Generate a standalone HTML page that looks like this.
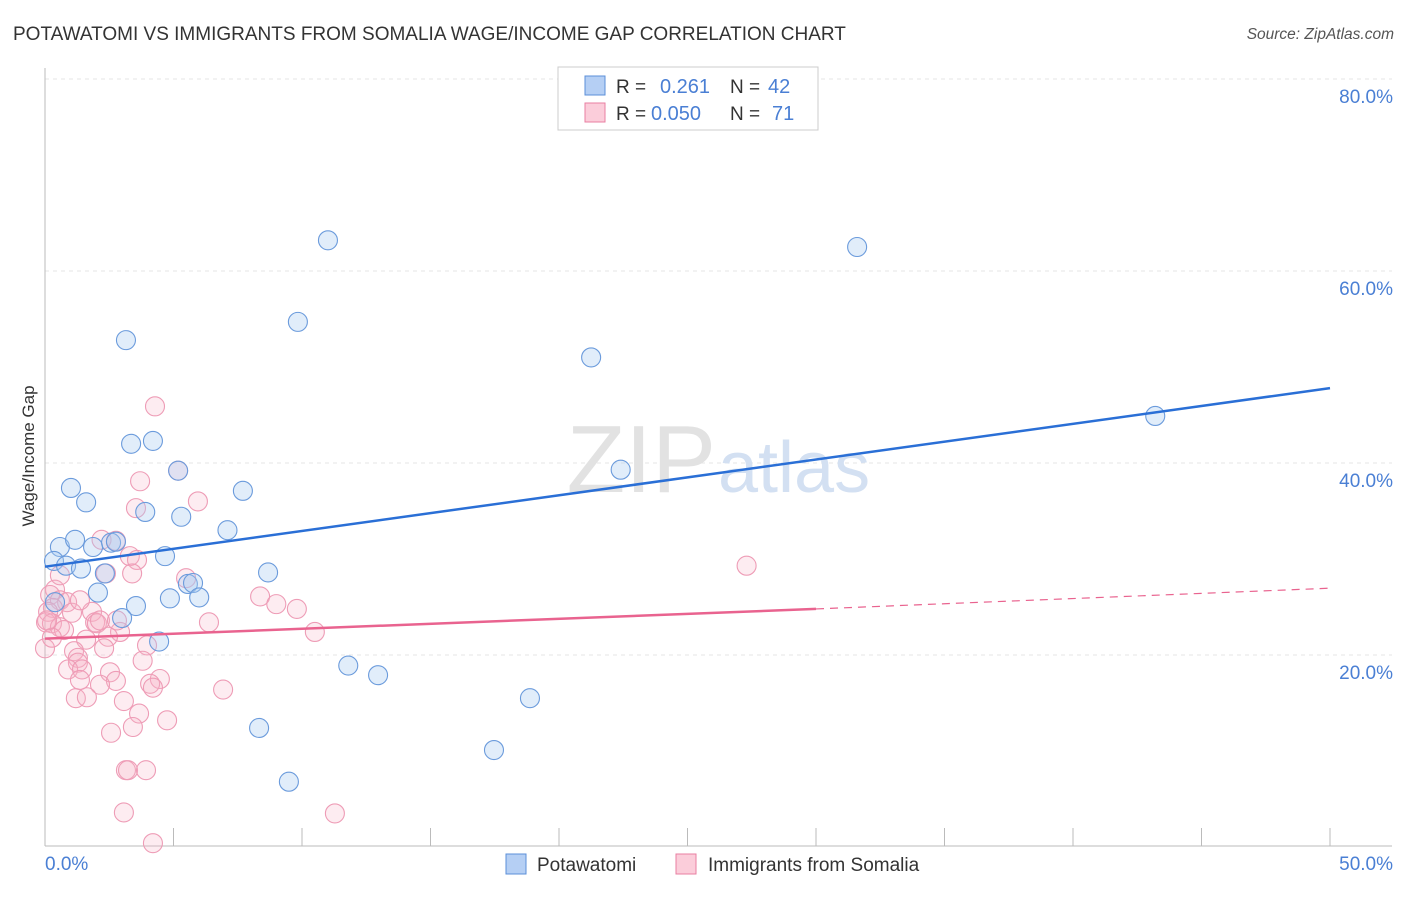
<!DOCTYPE html>
<html><head><meta charset="utf-8"><style>
body{margin:0;background:#fff;font-family:"Liberation Sans",sans-serif;}
svg text{font-family:"Liberation Sans",sans-serif;}
</style></head><body>
<svg width="1406" height="892" viewBox="0 0 1406 892" xmlns="http://www.w3.org/2000/svg">
<text x="13" y="40" font-size="19" fill="#333">POTAWATOMI VS IMMIGRANTS FROM SOMALIA WAGE/INCOME GAP CORRELATION CHART</text>
<text x="1394" y="39" font-size="15.5" fill="#555" text-anchor="end" font-style="italic">Source: ZipAtlas.com</text>
<g id="grid"></g>
<text x="716" y="492" font-size="96" fill="#e2e2e2" text-anchor="end" font-family="Liberation Serif">ZIP</text>
<text x="718" y="492" font-size="72" fill="#d3e0f2">atlas</text>
<line x1="45" y1="68" x2="45" y2="846" stroke="#bbb"/>
<line x1="45" y1="846" x2="1392" y2="846" stroke="#bbb"/>
<g id="ticks"></g>
<text x="34" y="456" font-size="17" fill="#333" text-anchor="middle" transform="rotate(-90 34 456)">Wage/Income Gap</text>
<text x="45" y="870" font-size="19" fill="#4a7fd4">0.0%</text>
<text x="1393" y="870" font-size="19" fill="#4a7fd4" text-anchor="end">50.0%</text>
<g id="ylabels"></g>
<g id="pts"></g>
<g id="lines"></g>
<g>
<rect x="558" y="67" width="260" height="63" fill="#fff" stroke="#ccc"/>
<rect x="585" y="76" width="20" height="19" fill="#b5cff4" stroke="#5b8fd8"/>
<rect x="585" y="103" width="20" height="19" fill="#fbcdda" stroke="#e87fa2"/>
<text x="616" y="93" font-size="19" fill="#333">R = </text><text x="660" y="93" font-size="20" fill="#4a7fd4">0.261</text>
<text x="730" y="93" font-size="19" fill="#333">N = </text><text x="768" y="93" font-size="20" fill="#4a7fd4">42</text>
<text x="616" y="120" font-size="19" fill="#333">R = </text><text x="651" y="120" font-size="20" fill="#4a7fd4">0.050</text>
<text x="730" y="120" font-size="19" fill="#333">N = </text><text x="772" y="120" font-size="20" fill="#4a7fd4">71</text>
</g>
<g>
<rect x="506" y="854" width="20" height="20" fill="#b5cff4" stroke="#5b8fd8"/>
<text x="537" y="871" font-size="19" fill="#333">Potawatomi</text>
<rect x="676" y="854" width="20" height="20" fill="#fbcdda" stroke="#e87fa2"/>
<text x="708" y="871" font-size="19" fill="#333">Immigrants from Somalia</text>
</g>
</svg>
<script>
const yTicks=[20,40,60,80];
const yTickLabels=["20.0%","40.0%","60.0%","80.0%"];
const xTicks=[0,5,10,15,20,25,30,35,40,45,50];
const blueX=[11.01,31.6,9.84,3.15,21.25,43.2,4.2,3.35,5.18,22.4,1.01,7.7,1.6,3.9,5.3,7.1,0.58,1.17,1.87,2.57,2.76,4.67,0.35,0.82,1.4,2.33,8.68,5.56,5.76,2.06,4.86,6.0,3.54,0.39,3.0,4.44,11.8,12.96,18.87,8.33,17.47,9.49];
const blueY=[63.2,62.5,54.7,52.8,51.0,44.9,42.3,42.0,39.2,39.3,37.4,37.1,35.9,34.9,34.4,33.0,31.25,32.0,31.25,31.7,31.8,30.3,29.8,29.3,29.0,28.5,28.6,27.4,27.5,26.5,25.9,26.0,25.1,25.5,23.85,21.4,18.9,17.9,15.5,12.4,10.1,6.8];
const pinkX=[4.28,5.18,3.7,5.95,3.54,2.2,2.76,3.3,3.58,2.37,3.39,5.49,0.39,0.2,0.58,0.86,0.31,0.12,1.83,8.37,9.0,9.8,1.05,1.95,2.02,6.38,0.04,0.27,0.58,0.74,2.92,2.45,1.6,10.5,3.97,0,2.3,1.13,1.28,1.28,3.8,0.9,1.44,2.53,4.47,1.36,4.09,4.2,2.76,2.14,6.93,1.2,1.63,3.07,4.75,3.66,3.42,2.57,3.15,3.23,3.93,27.3,3.07,11.28,4.2,0.58,0.27,1.36,2.14,0.08,2.8];
const pinkY=[45.9,39.2,38.1,36.0,35.3,32.0,31.9,30.3,29.9,28.5,28.5,28.0,26.8,26.25,25.7,25.5,24.9,24.5,24.5,26.1,25.3,24.8,24.4,23.4,23.3,23.4,23.4,23.3,22.9,22.6,22.4,21.9,21.6,22.4,21.0,20.7,20.7,20.4,19.7,19.2,19.4,18.5,18.5,18.2,17.5,17.4,17.0,16.6,17.3,16.9,16.4,15.5,15.6,15.2,13.2,13.9,12.5,11.9,8.0,8.0,8.0,29.3,3.6,3.5,0.4,28.3,21.8,25.7,23.6,23.6,23.6];
const blueTrend=[0,29.2,50,47.8];
const pinkTrend=[0,21.7,30,24.8,50,26.96];
const NS="http://www.w3.org/2000/svg";
const sx=v=>45+v/50*1285, sy=v=>847-v*9.6;
function mk(tag,attrs,parent){const e=document.createElementNS(NS,tag);for(const k in attrs)e.setAttribute(k,attrs[k]);parent.appendChild(e);return e;}
const grid=document.getElementById('grid'),yl=document.getElementById('ylabels'),tk=document.getElementById('ticks');
yTicks.forEach((t,i)=>{
 const l=mk('line',{x1:45,x2:1392,y1:sy(t),y2:sy(t),stroke:'#e6e6e6','stroke-dasharray':'4 4'},grid);
 
 
 const tx=mk('text',{x:1393,y:sy(t)+24,'font-size':19,fill:'#4a7fd4','text-anchor':'end'},yl);
 tx.textContent=yTickLabels[i];
 
 
});
xTicks.forEach(t=>{
 const l=mk('line',{x1:sx(t),x2:sx(t),y1:828,y2:846,stroke:'#bbb'},tk);
 
 
});
const pts=document.getElementById('pts');
pinkX.forEach((x,i)=>{
 const c=mk('circle',{cx:sx(x),cy:sy(pinkY[i]),r:9.5,fill:'rgba(246,178,200,0.25)',stroke:'#ee9cb6','stroke-width':1.1},pts);
 
 
});
blueX.forEach((x,i)=>{
 const c=mk('circle',{cx:sx(x),cy:sy(blueY[i]),r:9.5,fill:'rgba(170,202,242,0.35)',stroke:'#6b9bdc','stroke-width':1.1},pts);
 
 
});
const ln=document.getElementById('lines');
const b=mk('line',{x1:sx(blueTrend[0]),y1:sy(blueTrend[1]),x2:sx(blueTrend[2]),y2:sy(blueTrend[3]),stroke:'#2a6fd6','stroke-width':2.5},ln);


const p1=mk('line',{x1:sx(pinkTrend[0]),y1:sy(pinkTrend[1]),x2:sx(pinkTrend[2]),y2:sy(pinkTrend[3]),stroke:'#e9638f','stroke-width':2.5},ln);


const p2=mk('line',{x1:sx(pinkTrend[2]),y1:sy(pinkTrend[3]),x2:sx(pinkTrend[4]),y2:sy(pinkTrend[5]),stroke:'#e9638f','stroke-width':1.2,'stroke-dasharray':'8 6'},ln);


</script>
</body></html>
